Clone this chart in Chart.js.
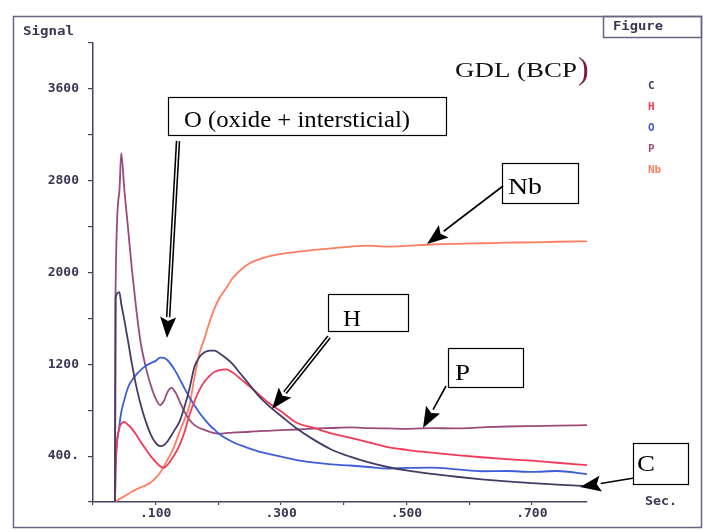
<!DOCTYPE html>
<html>
<head>
<meta charset="utf-8">
<script src="https://cdn.jsdelivr.net/npm/chart.js@4.4.1/dist/chart.umd.min.js"></script>
<style>
  html, body { margin: 0; padding: 0; background: #fff; }
  canvas { display: block; }
</style>
</head>
<body>
<canvas id="grafico" width="703" height="532"></canvas>
<script>
// tempo (s) - eixo X
const tempos = [0, 0.035, 0.036, 0.042, 0.045, 0.050, 0.056, 0.062, 0.069, 0.076,
  0.084, 0.092, 0.100, 0.107, 0.113, 0.119, 0.125, 0.131, 0.138, 0.146,
  0.154, 0.162, 0.170, 0.178, 0.186, 0.194, 0.202, 0.212, 0.222, 0.235,
  0.250, 0.265, 0.280, 0.300, 0.325, 0.350, 0.380, 0.410, 0.440, 0.470,
  0.500, 0.540, 0.580, 0.620, 0.660, 0.700, 0.740, 0.788];

// sinais
const sinalC = [0, 0, 1780, 1829, 1730, 1585, 1400, 1206, 1010, 850,
  705, 590, 515, 487, 495, 530, 580, 635, 700, 830,
  990, 1180, 1265, 1305, 1320, 1320, 1295, 1255, 1206, 1120,
  1020, 920, 840, 750, 640, 550, 458, 395, 345, 305,
  275, 245, 220, 198, 180, 164, 152, 138];
const sinalH = [0, 0, 300, 640, 680, 698, 672, 640, 585, 525,
  462, 400, 350, 312, 298, 325, 370, 420, 495, 610,
  760, 880, 980, 1050, 1100, 1135, 1150, 1155, 1130, 1075,
  1005, 935, 865, 790, 690, 650, 598, 560, 520, 478,
  455, 430, 409, 390, 374, 360, 342, 322];
const sinalO = [0, 0, 280, 660, 780, 890, 1000, 1060, 1110, 1150,
  1185, 1210, 1230, 1258, 1255, 1235, 1195, 1145, 1075, 990,
  910, 840, 775, 720, 670, 630, 590, 555, 525, 495,
  465, 440, 420, 395, 365, 345, 328, 318, 305, 292,
  298, 300, 285, 268, 270, 262, 270, 243];
const sinalP = [0, 0, 1850, 2700, 3040, 2720, 2380, 2030, 1680, 1390,
  1180, 1020, 900, 845, 880, 960, 995, 960, 880, 785,
  715, 670, 645, 628, 612, 600, 595, 600, 605, 608,
  612, 618, 620, 626, 632, 640, 645, 650, 644, 641,
  638, 644, 641, 650, 658, 662, 665, 670];
const sinalNb = [0, 0, 5, 25, 35, 50, 70, 90, 110, 128,
  145, 170, 210, 255, 310, 370, 430, 505, 610, 720,
  845, 1090, 1300, 1430, 1570, 1690, 1780, 1860, 1945, 2020,
  2080, 2115, 2140, 2163, 2180, 2195, 2210, 2226, 2235, 2226,
  2232, 2244, 2250, 2255, 2260, 2263, 2268, 2272];

const nomes = ['C', 'H', 'O', 'P', 'Nb'];
const cores = ['#473b66', '#f53a55', '#3d5ed8', '#9a4b7c', '#ff7d63'];
const sinais = [sinalC, sinalH, sinalO, sinalP, sinalNb];

// ticks dos eixos
const xTicks = [0, 0.1, 0.2, 0.3, 0.4, 0.5, 0.6, 0.7];
const xRotulos = ['', '.100', '', '.300', '', '.500', '', '.700'];
const yTicks = [0, 400, 800, 1200, 1600, 2000, 2400, 2800, 3200, 3600, 4000];
const yRotulos = ['', '400.', '', '1200', '', '2000', '', '2800', '', '3600', ''];

const corEixo = '#47425e';
const fonteEixo = { family: '"DejaVu Sans Mono"', size: 13, weight: 'bold' };

function texto(ctx, txt, x, y, largura) {
  const w = ctx.measureText(txt).width;
  ctx.save();
  ctx.translate(x, y);
  ctx.scale(largura / w, 1);
  ctx.fillText(txt, 0, 0);
  ctx.restore();
}

function linha(ctx, x1, y1, x2, y2) {
  ctx.beginPath();
  ctx.moveTo(x1, y1);
  ctx.lineTo(x2, y2);
  ctx.stroke();
}

function seta(ctx, x1, y1, x2, y2, dupla) {
  const ang = Math.atan2(y2 - y1, x2 - x1);
  const cab = 21, meia = 8;
  const bx = x2 - cab * Math.cos(ang), by = y2 - cab * Math.sin(ang);
  if (dupla) {
    ctx.strokeStyle = '#000'; ctx.lineWidth = 4.5;
    linha(ctx, x1, y1, bx, by);
    ctx.strokeStyle = '#fff'; ctx.lineWidth = 1.4;
    linha(ctx, x1, y1, bx, by);
  } else {
    ctx.strokeStyle = '#000'; ctx.lineWidth = 1.6;
    linha(ctx, x1, y1, bx, by);
  }
  ctx.fillStyle = '#000';
  ctx.beginPath();
  ctx.moveTo(x2, y2);
  ctx.lineTo(bx + meia * Math.sin(ang), by - meia * Math.cos(ang));
  ctx.lineTo(bx + 4 * Math.cos(ang), by + 4 * Math.sin(ang));
  ctx.lineTo(bx - meia * Math.sin(ang), by + meia * Math.cos(ang));
  ctx.closePath();
  ctx.fill();
}

function caixa(ctx, x, y, w, h, txt, tx, ty, tw) {
  ctx.fillStyle = '#fff';
  ctx.fillRect(x, y, w, h);
  ctx.strokeStyle = '#000';
  ctx.lineWidth = 1.2;
  ctx.strokeRect(x + 0.5, y + 0.5, w, h);
  ctx.fillStyle = '#000';
  ctx.font = '24px "Liberation Serif"';
  texto(ctx, txt, tx, ty, tw);
}

const decoracao = {
  id: 'decoracao',
  afterDraw(c) {
    const ctx = c.ctx;
    ctx.save();
    // moldura
    ctx.strokeStyle = '#6a6482';
    ctx.lineWidth = 1.5;
    ctx.strokeRect(13.5, 16.5, 688, 511);
    ctx.strokeRect(603.5, 16.5, 98, 21);

    ctx.fillStyle = '#3b3752';
    ctx.font = 'bold 12px "DejaVu Sans Mono"';
    ctx.textBaseline = 'alphabetic';
    texto(ctx, 'Figure', 613, 30, 50);
    texto(ctx, 'Signal', 23, 35, 51);
    texto(ctx, 'Sec.', 645, 505, 32);

    // legenda
    ctx.font = 'bold 11px "DejaVu Sans Mono"';
    c.data.datasets.forEach((ds, i) => {
      ctx.fillStyle = ds.borderColor;
      ctx.fillText(ds.label, 648, 89 + i * 21);
    });

    // titulo
    ctx.fillStyle = '#111';
    ctx.font = '22px "Liberation Serif"';
    texto(ctx, 'GDL (BCP', 455, 77, 122);
    ctx.fillStyle = '#7a1a45';
    ctx.font = '32px "Liberation Serif"';
    ctx.fillText(')', 578, 79);

    // anotacoes
    caixa(ctx, 168, 97, 278, 38, 'O (oxide + intersticial)', 184, 127, 226);
    caixa(ctx, 502, 163, 76, 40, 'Nb', 508, 194, 34);
    caixa(ctx, 328, 294, 80, 37, 'H', 343, 326, 18);
    caixa(ctx, 448, 348, 75, 39, 'P', 455, 380, 15);
    caixa(ctx, 633, 443, 55, 41, 'C', 637, 471, 18);

    seta(ctx, 178, 141, 167, 338, true);
    seta(ctx, 329, 337, 272, 409, true);
    seta(ctx, 503, 186, 427, 244, false);
    seta(ctx, 446, 386, 423, 428, false);
    seta(ctx, 634, 478, 580, 487, false);
    ctx.restore();
  }
};

const ctx = document.getElementById('grafico');

new Chart(ctx, {
  type: 'line',
  data: {
    datasets: nomes.map((n, i) => ({
      label: n,
      data: tempos.map((t, j) => ({ x: t, y: sinais[i][j] })),
      borderColor: cores[i],
      borderWidth: 1.8,
      pointRadius: 0,
      cubicInterpolationMode: 'monotone',
      fill: false
    }))
  },
  options: {
    responsive: false,
    animation: false,
    layout: { padding: { left: 0, top: 43, right: 116, bottom: 0 } },
    scales: {
      x: {
        type: 'linear',
        min: 0,
        max: 0.788,
        afterFit: s => { s.height = 30; },
        afterBuildTicks: s => { s.ticks = xTicks.map(v => ({ value: v })); },
        grid: { drawOnChartArea: false, drawTicks: true, tickLength: 3, color: corEixo, lineWidth: 1.2 },
        border: { display: true, color: corEixo, width: 1.5 },
        ticks: {
          autoSkip: false,
          maxRotation: 0,
          padding: 1,
          color: '#3b3752',
          font: fonteEixo,
          callback: (v, i) => xRotulos[i]
        }
      },
      y: {
        min: 0,
        max: 4000,
        afterFit: s => { s.width = 93; },
        afterBuildTicks: s => { s.ticks = yTicks.map(v => ({ value: v })); },
        grid: { drawOnChartArea: false, drawTicks: true, tickLength: 5, color: corEixo, lineWidth: 1.2 },
        border: { display: true, color: corEixo, width: 1.5 },
        ticks: {
          autoSkip: false,
          padding: 9,
          color: '#3b3752',
          font: fonteEixo,
          callback: (v, i) => yRotulos[i]
        }
      }
    },
    plugins: {
      legend: { display: false },
      tooltip: { enabled: false }
    }
  },
  plugins: [decoracao]
});
</script>
</body>
</html>
